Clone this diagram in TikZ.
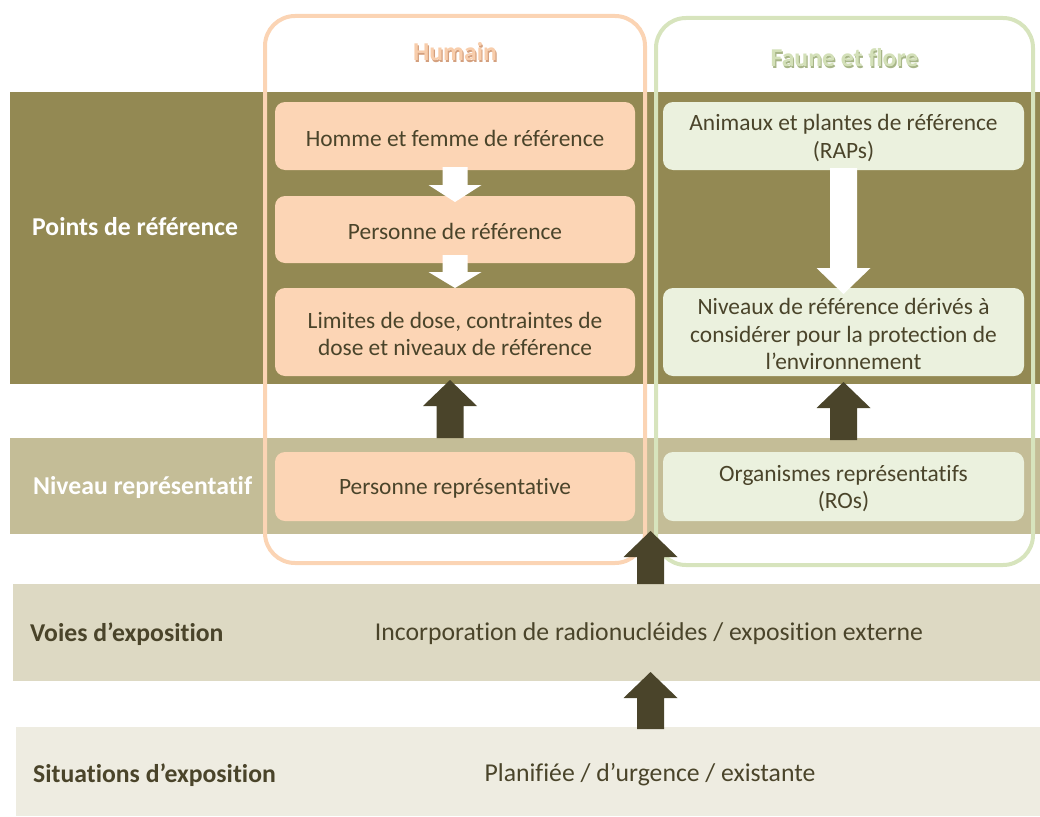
\documentclass[tikz,border=0pt]{standalone}
\usepackage{fontspec}
\setmainfont{Carlito}[Ligatures=NoCommon]
\usetikzlibrary{calc}

\definecolor{bandref}{HTML}{938953}
\definecolor{bandniv}{HTML}{C4BD97}
\definecolor{bandvoies}{HTML}{DDD9C3}
\definecolor{bandsit}{HTML}{EEECE1}
\definecolor{peachbox}{HTML}{FCD5B5}
\definecolor{greenbox}{HTML}{EBF1DE}
\definecolor{peachline}{HTML}{FBD4B4}
\definecolor{greenline}{HTML}{D7E4BD}
\definecolor{darktext}{HTML}{4A442A}
\definecolor{peachtitle}{HTML}{F8CDAB}
\definecolor{peachshadow}{HTML}{D4A07E}
\definecolor{greentitle}{HTML}{D3E0B8}
\definecolor{greenshadow}{HTML}{A7B587}

% vertical block arrows: style, base, tip, shaft half-width, head half-width, head length
\newcommand{\arrowup}[6]{%
  \fill[#1] let \p1=(#2), \p2=(#3) in
    (\x2-#4,\y1) -- (\x2-#4,\y2-#6) -- (\x2-#5,\y2-#6) -- (\x2,\y2)
    -- (\x2+#5,\y2-#6) -- (\x2+#4,\y2-#6) -- (\x2+#4,\y1) -- cycle;}
\newcommand{\arrowdown}[6]{%
  \fill[#1] let \p1=(#2), \p2=(#3) in
    (\x2-#4,\y1) -- (\x2-#4,\y2+#6) -- (\x2-#5,\y2+#6) -- (\x2,\y2)
    -- (\x2+#5,\y2+#6) -- (\x2+#4,\y2+#6) -- (\x2+#4,\y1) -- cycle;}

\begin{document}
\begin{tikzpicture}[x=1pt,y=-1pt,
  band/.style={anchor=north west,inner sep=0pt,outer sep=0pt},
  frame/.style={line width=4pt,rounded corners=30pt,inner sep=0pt,outer sep=0pt},
  box/.style={rounded corners=10pt,inner sep=0pt,outer sep=0pt,align=center,
    text=darktext,font=\fontsize{23.4}{27.8}\selectfont},
  hbox/.style={box,fill=peachbox,minimum width=360pt},
  gbox/.style={box,fill=greenbox,minimum width=361pt},
  boxtext/.style={inner sep=0pt,align=center,text=darktext,
    font=\fontsize{23.4}{27.8}\selectfont},
  lbl/.style={anchor=west,inner sep=0pt,font=\fontsize{25.7}{30}\selectfont\bfseries},
  plain/.style={inner sep=0pt,text=darktext,font=\fontsize{25.7}{30}\selectfont},
  title/.style={inner sep=0pt,font=\fontsize{25.7}{30}\selectfont\bfseries},
  darkarr/.style={fill=darktext},
  whitearr/.style={fill=white}]
\useasboundingbox (0,0) rectangle (1040,816);

% horizontal bands
\node[band,fill=bandref,minimum width=1030pt,minimum height=292pt] (bRef) at (10,92) {};
\node[band,fill=bandniv,minimum width=1030pt,minimum height=96pt] (bNiv) at (10,438) {};
\node[band,fill=bandvoies,minimum width=1027pt,minimum height=97pt] (bVoies) at (13,584) {};
\node[band,fill=bandsit,minimum width=1024pt,minimum height=89pt] (bSit) at (16,727) {};

% row labels
\node[lbl,text=white] (lRef) at (32,227) {Points de référence};
\node[lbl,text=white] (lNiv) at (33,487) {Niveau représentatif};
\node[lbl,text=darktext] (lVoies) at (30,634) {Voies d’exposition};
\node[lbl,text=darktext] (lSit) at (33,775) {Situations d’exposition};

\node[plain] (tVoies) at (649,634) {Incorporation de radionucléides / exposition externe};
\node[plain] (tSit) at (650,775) {Planifiée / d’urgence / existante};

% column frames
\node[frame,draw=peachline,minimum width=380pt,minimum height=547pt] (hum) at (455,289.5) {};
\node[frame,draw=greenline,minimum width=377pt,minimum height=547pt] (fau) at (844.5,291.5) {};

% column titles with soft shadow
\node[title,text=peachshadow] at (456.2,53.2) {Humain};
\node[title,text=peachtitle] (tHum) at (455,52) {Humain};
\node[title,text=greenshadow] at (845.7,59.2) {Faune et flore};
\node[title,text=greentitle] (tFau) at (844.5,58) {Faune et flore};

% boxes of the human column
\node[hbox,minimum height=68pt] (h1) at (455,136) {};
\node[hbox,minimum height=67pt] (h2) at (455,229.5) {};
\node[hbox,minimum height=88pt] (h3) at (455,332) {};
\node[hbox,minimum height=69pt] (h4) at (455,486.5) {};
\node[boxtext] at ($(h1.center)+(0,2)$) {Homme et femme de référence};
\node[boxtext] at ($(h2.center)+(0,2)$) {Personne de référence};
\node[boxtext] at ($(h3.center)+(0,2)$) {Limites de dose, contraintes de\\dose et niveaux de référence};
\node[boxtext] at ($(h4.center)+(0,2)$) {Personne représentative};

% boxes of the fauna and flora column
\node[gbox,minimum height=68pt] (g1) at (843.5,136) {};
\node[gbox,minimum height=88pt] (g2) at (843.5,332) {};
\node[gbox,minimum height=69pt] (g3) at (843.5,486.5) {};
\node[boxtext] at ($(g1.center)+(0,2)$) {Animaux et plantes de référence\\(RAPs)};
\node[boxtext] at ($(g2.center)+(0,2)$) {Niveaux de référence dérivés à\\considérer pour la protection de\\l’environnement};
\node[boxtext] at ($(g3.center)+(0,2)$) {Organismes représentatifs\\(ROs)};

% white arrows inside the reference band
\arrowdown{whitearr}{$(h1.south)+(0,-3)$}{$(h2.north)+(0,6)$}{12.5pt}{26.5pt}{17pt}
\arrowdown{whitearr}{$(h2.south)+(0,-8)$}{$(h3.north)+(0,0)$}{12.5pt}{26.5pt}{16pt}
\arrowdown{whitearr}{$(g1.south)+(0,-2)$}{$(g2.north)+(0,6)$}{13.5pt}{27pt}{26pt}

% dark arrows between the bands
\coordinate (d1tip) at ($(h3.south)+(-5,4)$);
\coordinate (d2tip) at ($(g2.south)+(0,6)$);
\coordinate (mid) at ($(hum.east)!0.5!(fau.west)$);
\arrowup{darkarr}{bNiv.north -| d1tip}{d1tip}{13.5pt}{27pt}{26pt}
\arrowup{darkarr}{$(bNiv.north -| d2tip)+(0,2)$}{d2tip}{13.5pt}{27pt}{26pt}
\arrowup{darkarr}{bVoies.north -| mid}{$(bNiv.south -| mid)+(0,-3)$}{13.5pt}{27pt}{26pt}
\arrowup{darkarr}{$(bSit.north -| mid)+(0,2)$}{$(bVoies.south -| mid)+(0,-9)$}{13.5pt}{27pt}{26pt}
\end{tikzpicture}
\end{document}
